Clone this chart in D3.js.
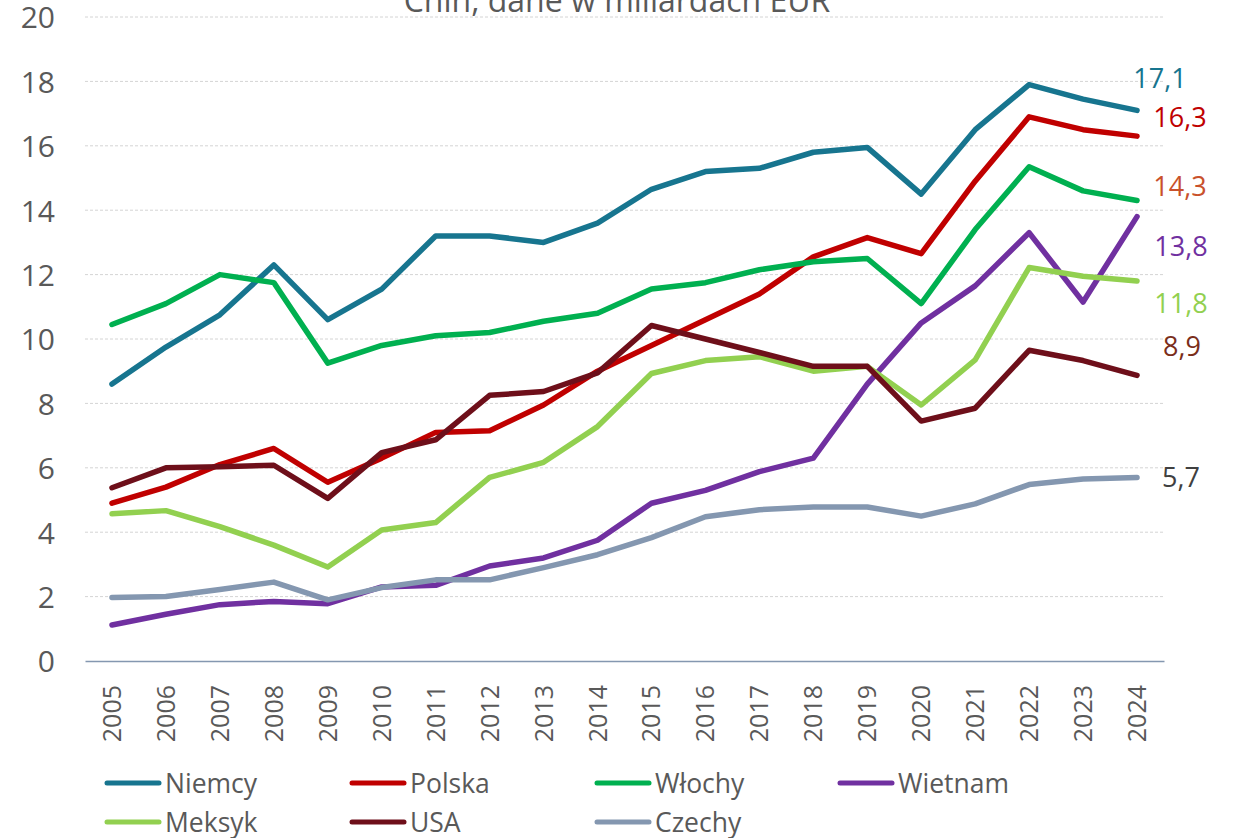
<!DOCTYPE html>
<html><head><meta charset="utf-8">
<script src="https://cdn.jsdelivr.net/npm/d3@7"></script>
<style>body{margin:0;background:#fff} svg{display:block}</style>
</head><body><svg id="c" width="1235" height="838"></svg>
<script>
const years = ["2005","2006","2007","2008","2009","2010","2011","2012","2013","2014","2015","2016","2017","2018","2019","2020","2021","2022","2023","2024"];
const niemcy  = [8.6, 9.75, 10.75, 12.3, 10.6, 11.55, 13.2, 13.2, 13.0, 13.6, 14.65, 15.2, 15.3, 15.8, 15.95, 14.5, 16.5, 17.9, 17.45, 17.1];
const polska  = [4.9, 5.4, 6.1, 6.6, 5.55, 6.3, 7.1, 7.15, 7.95, 9.0, 9.8, 10.6, 11.4, 12.55, 13.15, 12.65, 14.9, 16.9, 16.5, 16.3];
const wlochy  = [10.45, 11.1, 12.0, 11.75, 9.25, 9.8, 10.1, 10.2, 10.55, 10.8, 11.55, 11.75, 12.15, 12.4, 12.5, 11.1, 13.4, 15.35, 14.6, 14.3];
const wietnam = [1.12, 1.45, 1.75, 1.85, 1.78, 2.3, 2.35, 2.95, 3.2, 3.75, 4.9, 5.3, 5.88, 6.3, 8.6, 10.5, 11.65, 13.3, 11.15, 13.8];
const meksyk  = [4.57, 4.67, 4.17, 3.6, 2.92, 4.07, 4.3, 5.7, 6.17, 7.28, 8.93, 9.33, 9.45, 9.0, 9.15, 7.95, 9.35, 12.22, 11.95, 11.8];
const usa     = [5.38, 6.0, 6.03, 6.08, 5.05, 6.47, 6.87, 8.25, 8.37, 8.95, 10.42, 10.0, 9.58, 9.15, 9.15, 7.45, 7.85, 9.65, 9.33, 8.87];
const czechy  = [1.97, 2.0, 2.22, 2.45, 1.9, 2.28, 2.52, 2.52, 2.9, 3.3, 3.83, 4.48, 4.7, 4.78, 4.78, 4.5, 4.88, 5.48, 5.65, 5.7];
const seriesNames = ["Niemcy","Polska","Włochy","Wietnam","Meksyk","USA","Czechy"];
const endLabels = ["17,1","16,3","14,3","13,8","11,8","8,9","5,7"];
const yTicks = [0,2,4,6,8,10,12,14,16,18,20];
const titleText = "Chin, dane w miliardach EUR";

// styles / layout (kept separate from data)
const seriesColors = ["#17758f","#c00000","#00b050","#7030a0","#92d050","#6e0f1a","#8497b0"];
const labelColors  = ["#17758f","#c00000","#c9512b","#7030a0","#92d050","#7a2e1a","#404040"];
const labelDx = [23, 43, 43, 44, 44, 45, 44];
const labelDy = [-22, -9, -5, 39, 32, -19, 10];
const FONT = "'Open Sans', 'Liberation Sans', sans-serif";

const seriesData = [niemcy, polska, wlochy, wietnam, meksyk, usa, czechy];
const svg = d3.select("#c");
const mL = 85, mR = 1164, mT = 17, mB = 661;

const x = d3.scaleBand().domain(years).range([mL, mR]);
const y = d3.scaleLinear().domain([0, 20]).range([mB, mT]);
const cx = d => x(d) + x.bandwidth() / 2;

// gridlines
svg.append("g").selectAll("line").data(yTicks.filter(t => t > 0)).join("line")
  .attr("x1", mL).attr("x2", mR)
  .attr("y1", d => y(d)).attr("y2", d => y(d))
  .attr("stroke", "#d4d4d4").attr("stroke-width", 1).attr("stroke-dasharray", "3,2");

// title (partially cut off at top, as in the reference)
svg.append("text").attr("x", 617).attr("y", 12).attr("text-anchor", "middle")
  .attr("font-family", FONT).attr("font-size", 32).attr("fill", "#595959").text(titleText);

// y axis
const yAxis = svg.append("g").attr("transform", `translate(${mL},0)`)
  .call(d3.axisLeft(y).tickValues(yTicks).tickSize(0).tickPadding(30).tickFormat(d3.format("d")));
yAxis.select(".domain").remove();
yAxis.selectAll("text").attr("font-family", FONT).attr("font-size", 30).attr("fill", "#595959").attr("dy", "0.36em");

// x axis
const xAxis = svg.append("g").attr("transform", `translate(0,${mB})`)
  .call(d3.axisBottom(x).tickSize(0));
xAxis.select(".domain").attr("stroke", "#8497b0").attr("stroke-width", 1.5);
xAxis.selectAll("text")
  .attr("font-family", FONT).attr("font-size", 25).attr("fill", "#595959")
  .attr("text-anchor", "end")
  .attr("transform", "translate(0,24) rotate(-90)")
  .attr("x", 0).attr("y", 0).attr("dy", "0.36em");

// lines
const line = d3.line().x((d, i) => cx(years[i])).y(d => y(d));
svg.append("g").selectAll("path").data(seriesData).join("path")
  .attr("d", d => line(d))
  .attr("fill", "none")
  .attr("stroke", (d, i) => seriesColors[i])
  .attr("stroke-width", 5.5)
  .attr("stroke-linejoin", "round")
  .attr("stroke-linecap", "round");

// end labels
svg.append("g").selectAll("text").data(seriesData).join("text")
  .attr("x", (d, i) => cx(years[years.length - 1]) + labelDx[i])
  .attr("y", (d, i) => y(d[d.length - 1]) + labelDy[i])
  .attr("text-anchor", "middle")
  .attr("font-family", FONT).attr("font-size", 27)
  .attr("fill", (d, i) => labelColors[i])
  .text((d, i) => endLabels[i]);

// legend
const legCols = [105, 350, 595, 838];
const legRows = [783, 822];
const leg = svg.append("g").selectAll("g").data(seriesNames).join("g")
  .attr("transform", (d, i) => `translate(${legCols[i % 4]},${legRows[Math.floor(i / 4)]})`);
leg.append("line").attr("x1", 2).attr("x2", 54).attr("y1", 0).attr("y2", 0)
  .attr("stroke", (d, i) => seriesColors[i]).attr("stroke-width", 5).attr("stroke-linecap", "round");
leg.append("text").attr("x", 60).attr("y", 10)
  .attr("font-family", FONT).attr("font-size", 26.5).attr("fill", "#595959")
  .text(d => d);
</script>
</body></html>
